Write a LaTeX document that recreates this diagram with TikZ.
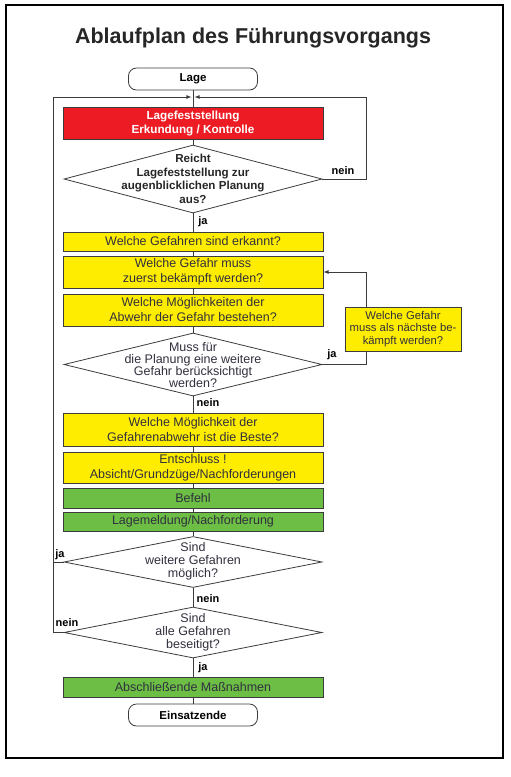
\documentclass[tikz,border=0pt]{standalone}
\usepackage{fontspec}
\setmainfont{Liberation Sans}
\usetikzlibrary{shapes.geometric, arrows}
\definecolor{lagerot}{RGB}{237,28,36}
\definecolor{gelb}{RGB}{255,237,0}
\definecolor{gruen}{RGB}{108,190,69}
\definecolor{schrift}{RGB}{48,48,62}
\definecolor{linie}{RGB}{60,60,60}
\tikzstyle{startstop} = [
  rectangle,
  rounded corners=8pt,
  minimum width=129pt,
  minimum height=22pt,
  text centered,
  draw=linie,
  fill=white,
  font=\bfseries\fontsize{11.5}{13}\selectfont
]
\tikzstyle{process} = [
  rectangle,
  minimum width=260pt,
  inner sep=0pt,
  text centered,
  align=center,
  draw=linie,
  fill=gelb,
  text=schrift,
  font=\fontsize{12.5}{15}\selectfont
]
\tikzstyle{lagebox} = [process, fill=lagerot, text=white,
  font=\bfseries\fontsize{11.7}{14}\selectfont]
\tikzstyle{action} = [process, fill=gruen]
\tikzstyle{decision} = [
  diamond,
  minimum width=258pt,
  inner sep=0pt,
  draw=linie,
  fill=white
]
\tikzstyle{dtext} = [align=center, inner sep=0pt, text=schrift,
  font=\fontsize{12.5}{13}\selectfont]
\tikzstyle{answer} = [inner sep=0pt, font=\bfseries\fontsize{11}{12}\selectfont]
\tikzstyle{arrow} = [->,>=latex]

\begin{document}
\begin{tikzpicture}[x=1pt, y=-1pt, line width=0.8pt, draw=linie]
    \useasboundingbox (0,0) rectangle (511,777);
    \draw[line width=2pt, black] (6,5) rectangle (503,758);

    % Titel
    \node (titel) at (253,38) [font=\bfseries\fontsize{21.5}{24}\selectfont, text=black!85] {Ablaufplan des Führungsvorgangs};

    % Hauptspalte
    \node (lage) at (193,79) [startstop] {Lage};
    \node (erkund) at (193,123) [lagebox, minimum height=32pt] {Lagefeststellung\\Erkundung / Kontrolle};
    \node (reicht) at (193,179) [decision, minimum height=68pt] {};
    \node (reichttext) at (193,179) [dtext, font=\bfseries\fontsize{11.6}{13.5}\selectfont, text=black!85] {Reicht\\Lagefeststellung zur\\augenblicklichen Planung\\aus?};
    \node (erkannt) at (193,241.5) [process, minimum height=19pt] {Welche Gefahren sind erkannt?};
    \node (zuerst) at (193,272) [process, minimum height=32pt] {Welche Gefahr muss\\zuerst bekämpft werden?};
    \node (abwehr) at (193,310) [process, minimum height=32pt] {Welche Möglichkeiten der\\Abwehr der Gefahr bestehen?};
    \node (weitere) at (193,364.5) [decision, minimum height=63pt] {};
    \node (weiteretext) at (193,365) [dtext, font=\fontsize{12.5}{12}\selectfont] {Muss für\\die Planung eine weitere\\Gefahr berücksichtigt\\werden?};
    \node (beste) at (193,429.5) [process, minimum height=33pt] {Welche Möglichkeit der\\Gefahrenabwehr ist die Beste?};
    \node (entschluss) at (193,467.5) [process, minimum height=31pt] {Entschluss !\\Absicht/Grundzüge/Nachforderungen};
    \node (befehl) at (193,498) [action, minimum height=20pt] {Befehl};
    \node (meldung) at (193,521.5) [action, minimum height=19pt] {Lagemeldung/Nachforderung};
    \node (moeglich) at (193,562) [decision, minimum height=51pt] {};
    \node (moeglichtext) at (193,561) [dtext] {Sind\\weitere Gefahren\\möglich?};
    \node (beseitigt) at (193,632.5) [decision, minimum height=51pt] {};
    \node (beseitigttext) at (193,632) [dtext] {Sind\\alle Gefahren\\beseitigt?};
    \node (abschluss) at (193,687.5) [action, minimum height=20pt] {Abschließende Maßnahmen};
    \node (ende) at (193,715) [startstop] {Einsatzende};

    % Nebenkasten rechts
    \node (naechste) at (403,329) [process, minimum width=116pt, minimum height=44pt,
      font=\fontsize{11.3}{12.5}\selectfont] {Welche Gefahr\\muss als nächste be-\\kämpft werden?};

    % Hilfspunkte der Schleifen
    \coordinate (links) at (53,97);
    \coordinate (rechts) at (366,97);
    \coordinate (eingang) at (193,97);

    % Linien der Hauptspalte
    \draw (lage) -- (erkund);
    \draw (erkund) -- (reicht);
    \draw (reicht) -- (erkannt);
    \draw (erkannt) -- (zuerst);
    \draw (zuerst) -- (abwehr);
    \draw (abwehr) -- (weitere);
    \draw (weitere) -- (beste);
    \draw (beste) -- (entschluss);
    \draw (entschluss) -- (befehl);
    \draw (befehl) -- (meldung);
    \draw (meldung) -- (moeglich);
    \draw (moeglich) -- (beseitigt);
    \draw (beseitigt) -- (abschluss);
    \draw (abschluss) -- (ende);

    % Schleifen
    \draw [arrow, shorten >=1.5pt] (reicht.east) -| (rechts) -- (eingang);
    \draw [arrow, shorten >=1.5pt] (beseitigt.west) -| (links) -- (eingang);
    \draw (moeglich.west) -- (moeglich.west -| links);
    \draw (weitere.east) -| (naechste.south -| rechts);
    \draw [arrow] (naechste.north -| rechts) |- (zuerst.east);

    % Beschriftungen
    \node (nein1) at (343,171) [answer] {nein};
    \node (ja1) at (203,222) [answer] {ja};
    \node (ja2) at (332,355) [answer] {ja};
    \node (nein2) at (208,403) [answer] {nein};
    \node (ja3) at (60,555) [answer] {ja};
    \node (nein3) at (208,599) [answer] {nein};
    \node (nein4) at (67,623) [answer] {nein};
    \node (ja4) at (203,668) [answer] {ja};

\end{tikzpicture}
\end{document}
